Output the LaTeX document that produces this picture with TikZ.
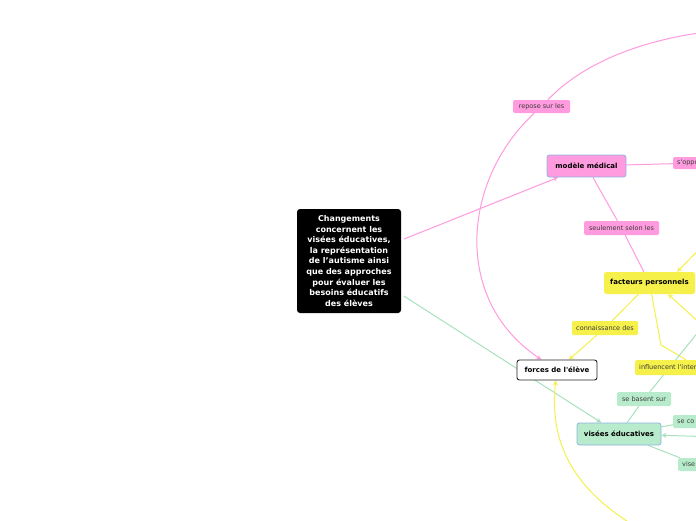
\documentclass[tikz,border=0pt]{standalone}
\usepackage{fontspec}
\setmainfont{DejaVu Sans}
\usepackage{tikz}
\usetikzlibrary{
  arrows.meta,
  positioning,
  backgrounds
}
\definecolor{mmPink}{HTML}{FF9BDE}
\definecolor{mmYellow}{HTML}{F5F04A}
\definecolor{mmGreen}{HTML}{B8EBCB}
\definecolor{mmGreenLine}{HTML}{A8E2BC}
\definecolor{mmBlue}{HTML}{8DB4E2}
\definecolor{mmText}{HTML}{3C3C3C}
\tikzset{
  mmnode/.style={
    rounded corners=2.5pt, inner sep=0pt, minimum height=22pt,
    font=\fontsize{7}{8}\selectfont\bfseries, align=center
  },
  rootbox/.style={mmnode, fill=black, text=white, minimum width=104pt, minimum height=104pt,
    font=\fontsize{8}{10.6}\selectfont\bfseries, rounded corners=3pt},
  medbox/.style={mmnode, fill=mmPink, draw=mmBlue, line width=0.8pt},
  factbox/.style={mmnode, fill=mmYellow},
  forcebox/.style={mmnode, fill=white, draw=black!85, line width=0.9pt, minimum height=20pt},
  visbox/.style={mmnode, fill=mmGreen, draw=mmBlue, line width=0.8pt},
  linklabel/.style={rounded corners=1.5pt, inner sep=0pt, minimum height=13pt,
    font=\fontsize{6.5}{7}\selectfont, text=mmText},
  pinklabel/.style={linklabel, fill=mmPink},
  yellowlabel/.style={linklabel, fill=mmYellow},
  greenlabel/.style={linklabel, fill=mmGreen},
  cutlabel/.style={anchor=west, align=left, inner xsep=4pt},
  pinkline/.style={line width=1pt, mmPink},
  yellowline/.style={line width=1pt, mmYellow},
  greenline/.style={line width=1pt, mmGreenLine},
  pinkarrow/.style={pinkline, -{Stealth[length=5pt, width=5pt]}},
  yellowarrow/.style={yellowline, -{Stealth[length=5pt, width=5pt]}},
  greenarrow/.style={greenline, -{Stealth[length=5pt, width=5pt]}}
}

\begin{document}
\begin{tikzpicture}[x=1pt, y=-1pt]
  \useasboundingbox (0,0) rectangle (696,520);
  \node[rootbox] (root) at (349,261) {Changements\\concernent les\\visées éducatives,\\la représentation\\de l’autisme ainsi\\que des approches\\pour évaluer les\\besoins éducatifs\\des élèves};
  \node[medbox, minimum width=79pt] (medical) at (586.5,166) {modèle médical};
  \node[pinklabel, minimum width=57pt] (repose) at (541.5,106.5) {repose sur les};
  \node[pinklabel, cutlabel, text width=40pt, minimum height=12pt] (soppose) at (673,163) {s\textquotesingle oppo};
  \node[pinklabel, minimum width=75pt, minimum height=14pt] (seulement) at (621.5,228) {seulement selon les};
  \node[factbox, minimum width=91pt] (facteurs) at (649.5,283) {facteurs personnels};
  \node[yellowlabel, minimum width=66pt, minimum height=14pt] (connaissance) at (605,328) {connaissance des};
  \node[forcebox, minimum width=80pt] (forces) at (557,370) {forces de l\textquotesingle élève};
  \node[yellowlabel, cutlabel, text width=120pt, minimum height=15pt] (influencent) at (635,367.5) {influencent l\textquotesingle inter};
  \node[greenlabel, minimum width=54pt, minimum height=14pt] (basent) at (644,399) {se basent sur};
  \node[visbox, minimum width=84pt] (visees) at (619,434) {visées éducatives};
  \node[greenlabel, cutlabel, text width=30pt] (concentrent) at (673,421.5) {se co};
  \node[greenlabel, cutlabel, text width=30pt] (visent) at (678,464.5) {vise};
  \coordinate (repin) at (735,29);
  \coordinate (factin1) at (720,228);
  \coordinate (factin2) at (724,345);
  \coordinate (bend) at (661,345);
  \coordinate (basout) at (720,305);
  \coordinate (visin) at (720,437);
  \coordinate (forcin) at (660,540);
  \begin{scope}[on background layer]
    \fill[white] (0,0) rectangle (696,520);
    \draw[pinkarrow, shorten <=3pt] (root) -- (medical);
    \draw[greenarrow, shorten <=3pt] (root) -- (visees);
    \draw[pinkline] (repin) .. controls (640,36) and (580,66) .. (repose);
    \draw[pinkarrow] (repose) .. controls (462,180) and (452,300) .. (forces);
    \draw[pinkline] (medical) -- (soppose);
    \draw[pinkline] (medical) -- (seulement) -- (facteurs);
    \draw[yellowarrow] (facteurs) -- (connaissance) -- (forces);
    \draw[yellowarrow] (factin1) -- (facteurs.22);
    \draw[yellowarrow] (factin2) -- (facteurs.-31);
    \draw[yellowline] (facteurs) -- (bend) -- (influencent);
    \draw[yellowarrow] (forcin) .. controls (580,500) and (548,450) .. (forces);
    \draw[greenline] (visees) -- (basent) -- (basout);
    \draw[greenline] (visees) -- (concentrent);
    \draw[greenarrow] (visin) -- (visees);
    \draw[greenline] (visees) -- (visent);
  \end{scope}
\end{tikzpicture}
\end{document}
